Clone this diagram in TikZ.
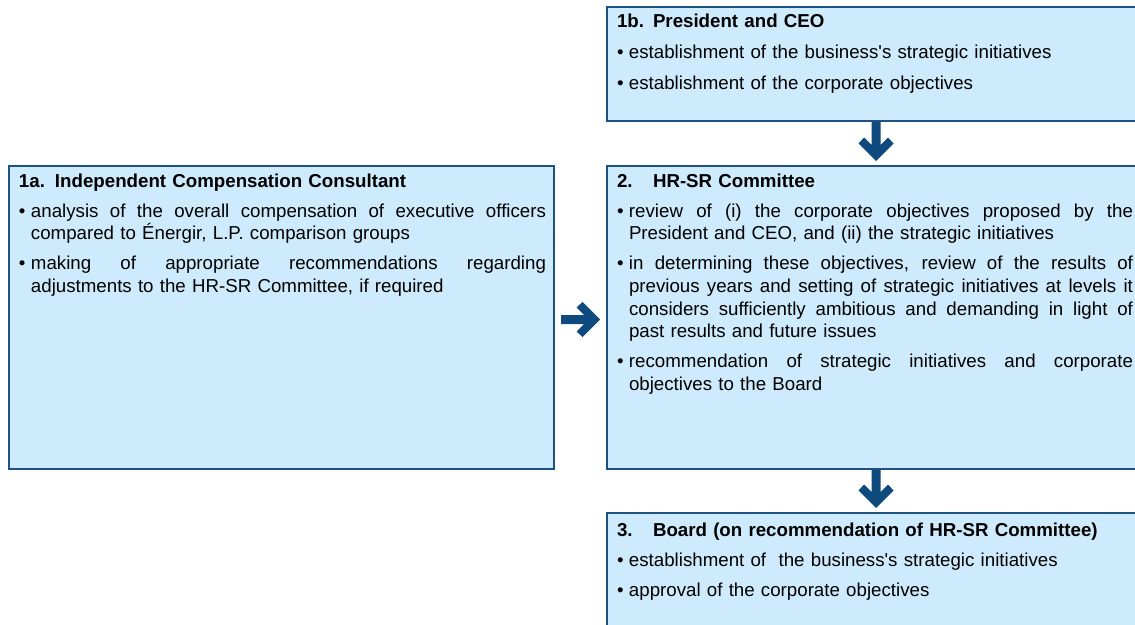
\documentclass[tikz,border=0pt]{standalone}
\usepackage{fontspec}
\setmainfont{Liberation Sans}
\usetikzlibrary{calc}

\definecolor{boxline}{HTML}{1F5180}
\definecolor{boxfill}{HTML}{CDEBFC}
\definecolor{arrowc}{HTML}{0E4A7E}

% a justified line of given width: interword spaces stretch to fill it
\newcommand{\jline}[2]{\makebox[#1][s]{\spaceskip=\fontdimen2\font plus 1fil\relax #2}}
% bullet that hangs in a 12pt column
\newcommand{\bul}{\makebox[12pt][l]{•}}
% straight apostrophe
\newcommand{\ap}{\textquotesingle}
% block arrow of length #2 starting at #1, pointing at angle #3
\newcommand{\fatarrow}[3]{%
  \begin{scope}[shift={(#1)}, rotate=#3]
    \fill[arrowc] (0,-4.5) -- (#2-16,-4.5) -- (#2-23.5,-12) -- (#2-17.5,-17.5)
      -- (#2,0) -- (#2-17.5,17.5) -- (#2-23.5,12) -- (#2-16,4.5) -- (0,4.5) -- cycle;
  \end{scope}}

\tikzset{
  box/.style={draw=boxline, fill=boxfill, line width=2pt, rectangle,
    anchor=north west, inner sep=0pt, outer sep=0pt},
  txt/.style={anchor=north west, inner sep=0pt, outer sep=0pt, align=left,
    font=\fontsize{18.7}{22.7}\selectfont}
}

\begin{document}
\begin{tikzpicture}[x=1pt,y=-1pt]
\useasboundingbox (0,0) rectangle (1135,624);
\clip (0,0) rectangle (1135,624);

% frames
\node[box, minimum width=545pt, minimum height=303pt] (b1a) at (9,166) {};
\node[box, minimum width=538pt, minimum height=114pt] (b1b) at (607,7) {};
\node[box, minimum width=538pt, minimum height=303pt] (b2) at (607,166) {};
\node[box, minimum width=538pt, minimum height=130pt] (b3) at (607,513) {};

% contents
\node[txt, text width=528pt] (t1a) at ($(b1a.north west)+(10,4)$) {%
\rule{0pt}{17pt}\textbf{\makebox[36pt][l]{1a.}Independent Compensation Consultant}\\[7.3pt]
\bul\jline{515pt}{analysis of the overall compensation of executive officers}\\
\hspace*{12pt}compared to Énergir, L.P. comparison groups\\[7.3pt]
\bul\jline{515pt}{making of appropriate recommendations regarding}\\
\hspace*{12pt}adjustments to the HR-SR Committee, if required};

\node[txt, text width=517pt] (t1b) at ($(b1b.north west)+(10,3.5)$) {%
\rule{0pt}{17pt}\textbf{\makebox[36pt][l]{1b.}President and CEO}\\[8.5pt]
\bul establishment of the business\ap s strategic initiatives\\[8.5pt]
\bul establishment of the corporate objectives};

\node[txt, text width=517pt] (t2) at ($(b2.north west)+(10,4)$) {%
\rule{0pt}{17pt}\textbf{\makebox[36pt][l]{2.}HR-SR Committee}\\[7.3pt]
\bul\jline{504pt}{review of (i) the corporate objectives proposed by the}\\
\hspace*{12pt}President and CEO, and (ii) the strategic initiatives\\[7.3pt]
\bul\jline{504pt}{in determining these objectives, review of the results of}\\
\hspace*{12pt}\jline{504pt}{previous years and setting of strategic initiatives at levels it}\\
\hspace*{12pt}\jline{504pt}{considers sufficiently ambitious and demanding in light of}\\
\hspace*{12pt}past results and future issues\\[7.3pt]
\bul\jline{504pt}{recommendation of strategic initiatives and corporate}\\
\hspace*{12pt}objectives to the Board};

\node[txt, text width=517pt] (t3) at ($(b3.north west)+(10,6)$) {%
\rule{0pt}{17pt}\textbf{\makebox[36pt][l]{3.}Board (on recommendation of HR-SR Committee)}\\[7.3pt]
\bul establishment of~ the business\ap s strategic initiatives\\[7.3pt]
\bul approval of the corporate objectives};

% block arrows between the frames
\fatarrow{$(b1b.south)+(0,1)$}{39}{-90}
\fatarrow{$(b2.south)+(0,1)$}{38}{-90}
\fatarrow{$(b1a.east)!0.5!(b2.west |- b1a.east)+(-19.5,2)$}{39}{0}
\end{tikzpicture}
\end{document}
